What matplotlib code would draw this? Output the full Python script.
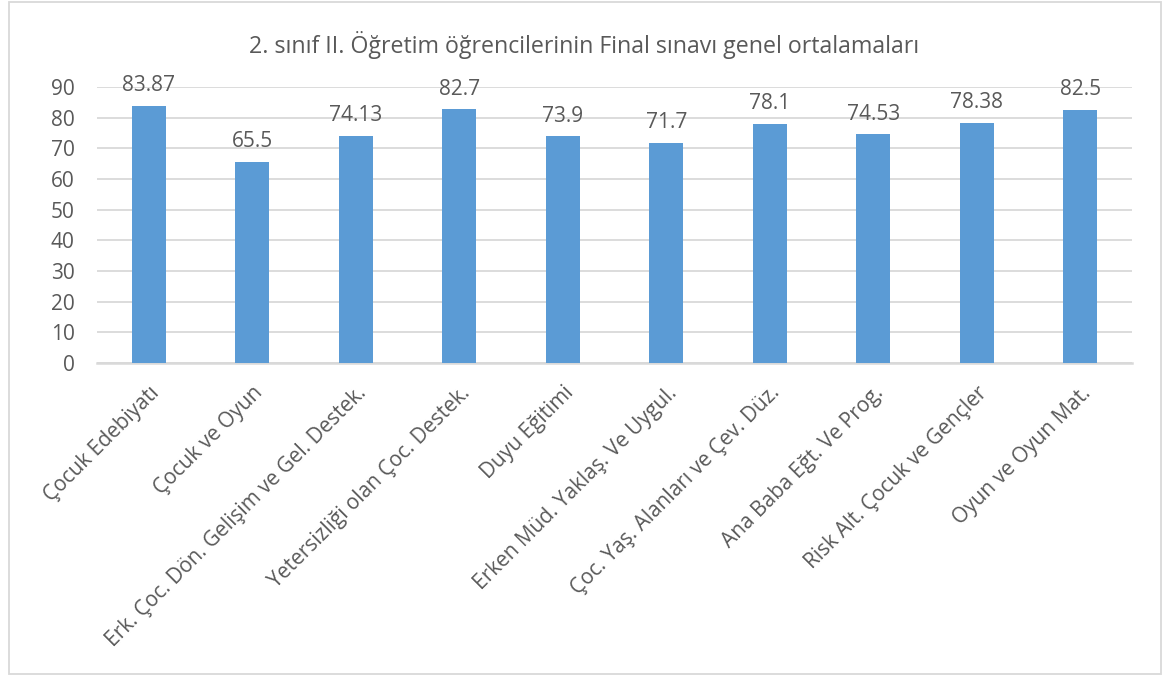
import matplotlib.pyplot as plt
from matplotlib.patches import Rectangle

# data
categories = [
    "Çocuk Edebiyatı",
    "Çocuk ve Oyun",
    "Erk. Çoc. Dön. Gelişim ve Gel. Destek.",
    "Yetersizliği olan Çoc. Destek.",
    "Duyu Eğitimi",
    "Erken Müd. Yaklaş. Ve Uygul.",
    "Çoc. Yaş. Alanları ve Çev. Düz.",
    "Ana Baba Eğt. Ve Prog.",
    "Risk Alt. Çocuk ve Gençler",
    "Oyun ve Oyun Mat.",
]
values = [83.87, 65.5, 74.13, 82.7, 73.9, 71.7, 78.1, 74.53, 78.38, 82.5]
value_labels = ["83.87", "65.5", "74.13", "82.7", "73.9", "71.7", "78.1", "74.53", "78.38", "82.5"]
yticks = [0, 10, 20, 30, 40, 50, 60, 70, 80, 90]
title = "2. sınıf II. Öğretim öğrencilerinin Final sınavı genel ortalamaları"

BAR = "#5B9BD5"
GRID = "#D9D9D9"
TXT = "#595959"

plt.rcParams["font.family"] = ["Open Sans", "DejaVu Sans"]

fig = plt.figure(figsize=(11.63, 6.75), dpi=100)
ax = fig.add_axes([0.0834, 0.4622, 0.8899, 0.4089])

x = list(range(len(categories)))
ax.bar(x, values, width=0.33, color=BAR, zorder=3)

for xi, v, lab in zip(x, values, value_labels):
    ax.annotate(lab, (xi, v), xytext=(0, 7), textcoords="offset points",
                ha="center", va="bottom", fontsize=15, color=TXT, zorder=4)

ax.set_xlim(-0.5, len(categories) - 0.5)
ax.set_ylim(0, 90)
ax.set_yticks(yticks)
ax.set_yticklabels([str(t) for t in yticks], fontsize=15, color=TXT)
ax.yaxis.grid(True, color=GRID, linewidth=1.3, zorder=0)
ax.tick_params(axis="y", length=0, pad=16)

ax.set_xticks(x)
ax.set_xticklabels(categories, rotation=45, ha="right", rotation_mode="anchor",
                   fontsize=15, color=TXT)
ax.tick_params(axis="x", length=0, pad=14)

for side in ["top", "right", "left"]:
    ax.spines[side].set_visible(False)
ax.spines["bottom"].set_color(GRID)
ax.spines["bottom"].set_linewidth(1.8)

fig.text(0.502, 0.933, title, ha="center", va="center", fontsize=16.7, color=TXT)

# chart border
fig.patches.append(Rectangle((0.0077, 0.0015), 0.9905, 0.9955, transform=fig.transFigure,
                             fill=False, edgecolor=GRID, linewidth=1.3))

fig.savefig("out.png", dpi=100, facecolor="white")
